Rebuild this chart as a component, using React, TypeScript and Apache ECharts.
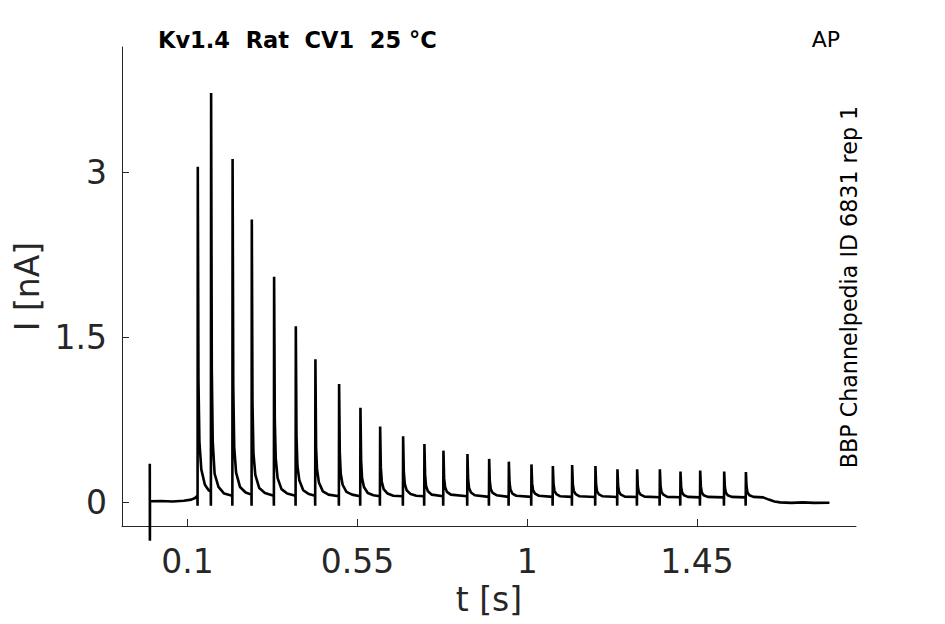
import React, { useEffect, useRef } from "react";
import * as echarts from "echarts";

const titleText = "Kv1.4  Rat  CV1  25 °C";
const protocolText = "AP";
const sideText = "BBP Channelpedia ID 6831 rep 1";
const xName = "t [s]";
const yName = "I [nA]";
const xTicks = [0.1, 0.55, 1, 1.45];
const yTicks = [0, 1.5, 3];
const xRange = [-0.0736, 1.871];
const yRange = [-0.215, 4.139];

const trace: [number, number][] = [
  [0, 0.35], [0.0003, -0.35], [0.0006, 0.01],
  [0.03, 0.012], [0.06, 0.008], [0.09, 0.015], [0.11, 0.025], [0.12, 0.04], [0.1262, 0.06],
  [0.1266, -0.03], [0.1272, 3.05], [0.129, 1.1], [0.1315, 0.55], [0.1365, 0.3], [0.146, 0.16], [0.156, 0.11], [0.1615, 0.1],
  [0.1619, -0.03], [0.1625, 3.72], [0.1643, 1.2], [0.1668, 0.55], [0.1718, 0.26], [0.182, 0.14], [0.197, 0.08], [0.2184, 0.06],
  [0.2188, -0.03], [0.2194, 3.12], [0.2212, 1.05], [0.2237, 0.5], [0.2287, 0.27], [0.239, 0.14], [0.254, 0.09], [0.2693, 0.07],
  [0.2697, -0.03], [0.2703, 2.57], [0.2721, 0.9], [0.2746, 0.45], [0.2796, 0.25], [0.29, 0.13], [0.305, 0.085], [0.3284, 0.06],
  [0.3288, -0.03], [0.3294, 2.05], [0.3312, 0.75], [0.3337, 0.4], [0.3387, 0.22], [0.349, 0.12], [0.364, 0.08], [0.3859, 0.06],
  [0.3863, -0.03], [0.3869, 1.6], [0.3887, 0.6], [0.3912, 0.33], [0.3962, 0.2], [0.4065, 0.11], [0.4215, 0.075], [0.4378, 0.06],
  [0.4382, -0.03], [0.4388, 1.3], [0.4406, 0.5], [0.4431, 0.3], [0.4481, 0.18], [0.4585, 0.1], [0.4735, 0.07], [0.5006, 0.055],
  [0.501, -0.03], [0.5016, 1.075], [0.5034, 0.45], [0.5059, 0.26], [0.5109, 0.16], [0.521, 0.095], [0.536, 0.07], [0.5571, 0.055],
  [0.5575, -0.03], [0.5581, 0.86], [0.5599, 0.38], [0.5624, 0.22], [0.5674, 0.14], [0.5775, 0.085], [0.5925, 0.065], [0.6093, 0.055],
  [0.6097, -0.03], [0.6103, 0.69], [0.6121, 0.32], [0.6146, 0.19], [0.6196, 0.12], [0.63, 0.08], [0.645, 0.06], [0.6702, 0.055],
  [0.6706, -0.03], [0.6712, 0.6], [0.673, 0.28], [0.6755, 0.17], [0.6805, 0.11], [0.691, 0.075], [0.706, 0.06], [0.7266, 0.055],
  [0.727, -0.03], [0.7276, 0.53], [0.7294, 0.25], [0.7319, 0.15], [0.7369, 0.1], [0.747, 0.07], [0.777, 0.055],
  [0.7774, -0.03], [0.778, 0.47], [0.7798, 0.22], [0.7823, 0.14], [0.7873, 0.095], [0.7975, 0.07], [0.8406, 0.055],
  [0.841, -0.03], [0.8416, 0.44], [0.8434, 0.21], [0.8459, 0.13], [0.8509, 0.09], [0.861, 0.065], [0.8981, 0.05],
  [0.8985, -0.03], [0.8991, 0.395], [0.9009, 0.19], [0.9034, 0.12], [0.9084, 0.085], [0.9185, 0.065], [0.9503, 0.05],
  [0.9507, -0.03], [0.9513, 0.37], [0.9531, 0.18], [0.9556, 0.115], [0.9606, 0.08], [0.971, 0.06], [1.0102, 0.05],
  [1.0106, -0.03], [1.0112, 0.345], [1.013, 0.17], [1.0155, 0.11], [1.0205, 0.08], [1.031, 0.06], [1.0669, 0.05],
  [1.0673, -0.03], [1.0679, 0.33], [1.0697, 0.165], [1.0722, 0.105], [1.0772, 0.075], [1.0875, 0.055], [1.118, 0.05],
  [1.1184, -0.03], [1.119, 0.34], [1.1208, 0.165], [1.1233, 0.105], [1.1283, 0.075], [1.1385, 0.055], [1.1797, 0.048],
  [1.1801, -0.03], [1.1807, 0.33], [1.1825, 0.16], [1.185, 0.1], [1.19, 0.072], [1.2, 0.055], [1.238, 0.048],
  [1.2384, -0.03], [1.239, 0.3], [1.2408, 0.15], [1.2433, 0.095], [1.2483, 0.07], [1.2585, 0.052], [1.2902, 0.048],
  [1.2906, -0.03], [1.2912, 0.3], [1.293, 0.15], [1.2955, 0.095], [1.3005, 0.07], [1.311, 0.052], [1.3504, 0.046],
  [1.3508, -0.03], [1.3514, 0.3], [1.3532, 0.15], [1.3557, 0.095], [1.3607, 0.07], [1.371, 0.05], [1.405, 0.046],
  [1.4054, -0.03], [1.406, 0.28], [1.4078, 0.14], [1.4103, 0.09], [1.4153, 0.065], [1.4255, 0.05], [1.4572, 0.045],
  [1.4576, -0.03], [1.4582, 0.29], [1.46, 0.145], [1.4625, 0.09], [1.4675, 0.065], [1.478, 0.05], [1.5208, 0.045],
  [1.5212, -0.03], [1.5218, 0.28], [1.5236, 0.14], [1.5261, 0.09], [1.5311, 0.065], [1.5415, 0.05], [1.5783, 0.045],
  [1.5787, -0.03], [1.5793, 0.275], [1.5811, 0.14], [1.5836, 0.09], [1.5886, 0.065], [1.599, 0.05], [1.625, 0.045],
  [1.64, 0.025], [1.655, 0.008], [1.67, 0.0], [1.7, -0.005], [1.73, 0.0], [1.76, -0.005], [1.8006, -0.003],
];

const FONT = "'DejaVu Sans', sans-serif";
const AXIS_COLOR = "#262626";

export default function App() {
  const ref = useRef<HTMLDivElement>(null);
  useEffect(() => {
    if (!ref.current) return;
    const chart = echarts.init(ref.current, null, { renderer: "svg" });
    chart.setOption({
      animation: false,
      backgroundColor: "#ffffff",
      grid: { left: 122, right: 89, top: 47, bottom: 98, containLabel: false },
      xAxis: {
        type: "value",
        min: xRange[0],
        max: xRange[1],
        name: xName,
        nameLocation: "middle",
        nameGap: 38,
        nameTextStyle: { fontFamily: FONT, fontSize: 33, color: AXIS_COLOR },
        axisLine: { show: true, onZero: false, lineStyle: { color: AXIS_COLOR, width: 1 } },
        axisTick: { show: true, inside: true, length: 7, customValues: xTicks, lineStyle: { color: AXIS_COLOR } },
        axisLabel: {
          customValues: xTicks,
          margin: 19,
          fontFamily: FONT,
          fontSize: 33,
          color: AXIS_COLOR,
          formatter: (v: number) => String(v),
        },
        splitLine: { show: false },
      },
      yAxis: {
        type: "value",
        min: yRange[0],
        max: yRange[1],
        name: yName,
        nameLocation: "middle",
        nameRotate: 90,
        nameGap: 76,
        nameTextStyle: { fontFamily: FONT, fontSize: 33, color: AXIS_COLOR },
        axisLine: { show: true, onZero: false, lineStyle: { color: AXIS_COLOR, width: 1 } },
        axisTick: { show: true, inside: true, length: 7, customValues: yTicks, lineStyle: { color: AXIS_COLOR } },
        axisLabel: {
          customValues: yTicks,
          margin: 15,
          fontFamily: FONT,
          fontSize: 33,
          color: AXIS_COLOR,
          formatter: (v: number) => String(v),
        },
        splitLine: { show: false },
      },
      graphic: [
        {
          type: "text",
          x: 158,
          y: 40,
          style: {
            text: titleText,
            fontFamily: FONT,
            fontSize: 22.5,
            fontWeight: "bold",
            fill: "#000000",
            align: "left",
            verticalAlign: "middle",
          },
        },
        {
          type: "text",
          x: 840,
          y: 39,
          style: {
            text: protocolText,
            fontFamily: FONT,
            fontSize: 22,
            fill: "#000000",
            align: "right",
            verticalAlign: "middle",
          },
        },
        {
          type: "text",
          x: 849,
          y: 287,
          rotation: Math.PI / 2,
          style: {
            text: sideText,
            fontFamily: FONT,
            fontSize: 22.2,
            fill: "#000000",
            align: "center",
            verticalAlign: "middle",
          },
        },
      ],
      series: [
        {
          type: "line",
          data: trace,
          showSymbol: false,
          clip: false,
          lineStyle: { color: "#000000", width: 2.6 },
          itemStyle: { color: "#000000" },
        },
      ],
    });
    return () => chart.dispose();
  }, []);
  return (
    <div
      ref={ref}
      style={{ position: "fixed", left: 0, top: 0, width: 945, height: 624, background: "#fff" }}
    />
  );
}
